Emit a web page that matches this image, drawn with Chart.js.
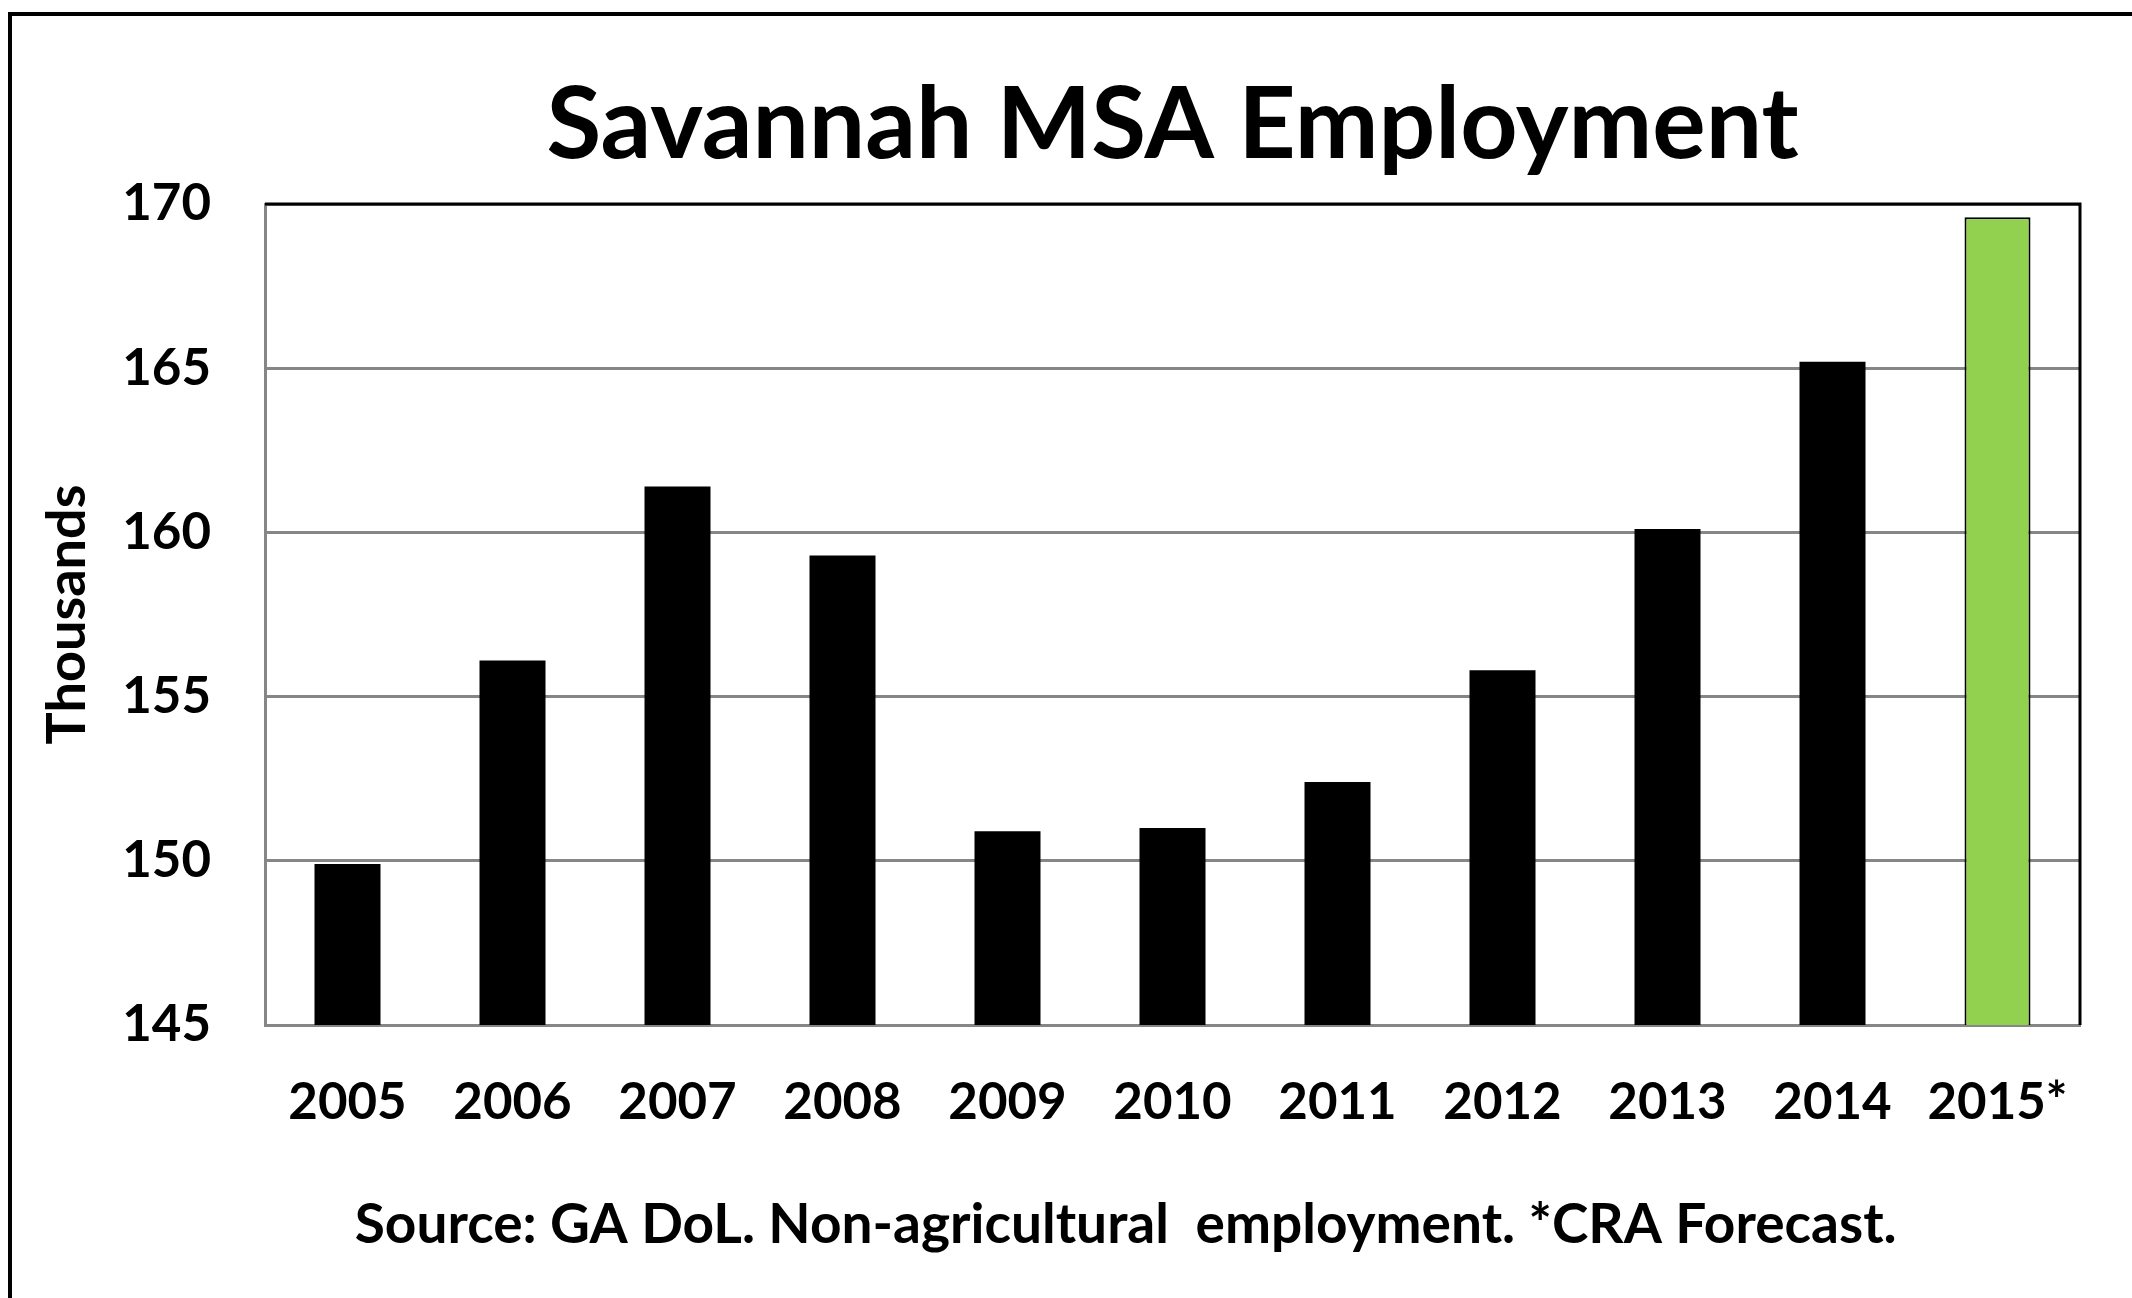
<!DOCTYPE html>
<html>
<head>
<meta charset="utf-8">
<title>Savannah MSA Employment</title>
<script src="https://cdn.jsdelivr.net/npm/chart.js@4.4.1/dist/chart.umd.min.js"></script>
<style>
  html, body { margin: 0; padding: 0; background: #fff; }
  #wrap { position: relative; width: 2132px; height: 1298px; overflow: hidden; }
  #frame {
    position: absolute; left: 8px; top: 12px; right: -20px; bottom: -20px;
    border-left: 4px solid #000; border-top: 4px solid #000; pointer-events: none;
  }
  canvas { display: block; }
</style>
</head>
<body>
<div id="wrap">
  <canvas id="employmentChart" width="2132" height="1298"></canvas>
  <div id="frame"></div>
</div>
<script>
// Savannah MSA non-agricultural employment, thousands
const years = ["2005", "2006", "2007", "2008", "2009", "2010", "2011", "2012", "2013", "2014", "2015*"];
const employment = [149.9, 156.1, 161.4, 159.3, 150.9, 151.0, 152.4, 155.8, 160.1, 165.2, 169.6];
const barFill = ["#000000", "#000000", "#000000", "#000000", "#000000", "#000000",
  "#000000", "#000000", "#000000", "#000000", "#92D050"];
const barBorder = [0, 0, 0, 0, 0, 0, 0, 0, 0, 0, 2];
const yTicks = [145, 150, 155, 160, 165, 170];

const chartTitle = "Savannah MSA Employment";
// trailing nbsp's nudge the centred note a little left of the plot centre, as in the original
const sourceNote = "Source: GA DoL. Non-agricultural  employment. *CRA Forecast." + "\u00A0".repeat(7);
const axisTitle = "Thousands";

const fontFamily = "Lato, Carlito, Calibri, 'Open Sans', sans-serif";

// black top + right edge of the plot area (left/bottom are grey axes)
const plotEdges = {
  id: "plotEdges",
  afterDatasetsDraw(chart) {
    const { ctx, chartArea } = chart;
    ctx.save();
    ctx.strokeStyle = "#000";
    ctx.lineWidth = 3;
    ctx.beginPath();
    ctx.moveTo(chartArea.left, chartArea.top);
    ctx.lineTo(chartArea.right, chartArea.top);
    ctx.lineTo(chartArea.right, chartArea.bottom);
    ctx.stroke();
    ctx.restore();
  },
};

const employmentChart = new Chart(document.getElementById("employmentChart"), {
  type: "bar",
  data: {
    labels: years,
    datasets: [
      {
        label: "Employment (thousands)",
        data: employment,
        backgroundColor: barFill,
        borderColor: "#000000",
        borderWidth: barBorder,
        borderSkipped: false,
        barPercentage: 0.4,
        categoryPercentage: 1.0,
      },
    ],
  },
  options: {
    responsive: false,
    animation: false,
    layout: {
      padding: { top: 76, left: 40, right: 52, bottom: 40 },
    },
    plugins: {
      legend: { display: false },
      tooltip: { enabled: false },
      title: {
        display: true,
        text: chartTitle,
        fullSize: false,
        color: "#000",
        font: { family: fontFamily, weight: "bold", size: 100, lineHeight: 1 },
        padding: { top: 0, bottom: 28 },
      },
      subtitle: {
        display: true,
        position: "bottom",
        text: sourceNote,
        fullSize: false,
        color: "#000",
        font: { family: fontFamily, weight: "bold", size: 55, lineHeight: 1.2 },
        padding: 0,
      },
    },
    scales: {
      x: {
        afterFit(scale) {
          scale.height = 167;
        },
        grid: { display: false, drawTicks: false },
        border: { display: true, color: "#868686", width: 3 },
        ticks: {
          color: "#000",
          padding: 47,
          maxRotation: 0,
          autoSkip: false,
          font: { family: fontFamily, weight: "bold", size: 51 },
        },
      },
      y: {
        min: yTicks[0],
        max: yTicks[yTicks.length - 1],
        afterFit(scale) {
          scale.width = 225;
        },
        afterBuildTicks(scale) {
          scale.ticks = yTicks.map((v) => ({ value: v }));
        },
        grid: { color: "#868686", lineWidth: 3, drawTicks: false },
        border: { display: true, color: "#868686", width: 3 },
        ticks: {
          color: "#000",
          padding: 54,
          font: { family: fontFamily, weight: "bold", size: 51 },
        },
        title: {
          display: true,
          text: axisTitle,
          color: "#000",
          padding: { top: 1, bottom: 0 },
          font: { family: fontFamily, weight: "bold", size: 54, lineHeight: 1 },
        },
      },
    },
  },
  plugins: [plotEdges],
});
</script>
</body>
</html>
